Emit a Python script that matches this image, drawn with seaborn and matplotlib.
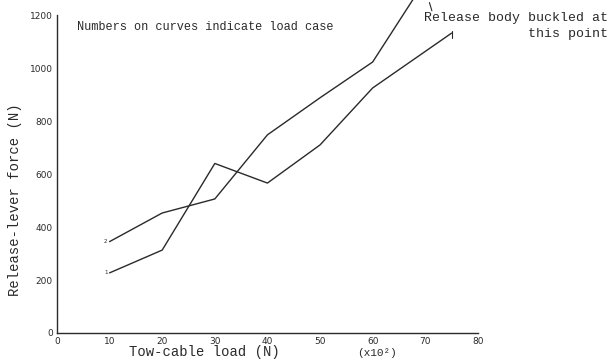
import matplotlib
matplotlib.use("Agg")
import matplotlib.pyplot as plt
import seaborn as sns
import pandas as pd

# Data (tow-cable load in units of 10^2 N)
case1_x = [10, 20, 30, 40, 50, 60, 75]
case1_y = [227, 313, 640, 566, 710, 925, 1132]
case2_x = [10, 20, 30, 40, 50, 60, 69]
case2_y = [345, 453, 506, 748, 888, 1023, 1300]
x_ticks = [0, 10, 20, 30, 40, 50, 60, 70, 80]
y_ticks = [0, 200, 400, 600, 800, 1000, 1200]

df = pd.concat([
    pd.DataFrame({"load": case1_x, "force": case1_y, "case": "1"}),
    pd.DataFrame({"load": case2_x, "force": case2_y, "case": "2"}),
])

sns.set_theme(style="white")
plt.rcParams["font.family"] = ["DejaVu Sans"]
mono = "Liberation Mono"
ink = "#2a2a2a"

fig = plt.figure(figsize=(6.1, 3.6), dpi=100)
ax = fig.add_axes([0.0934, 0.075, 0.690, 0.883])
sns.lineplot(data=df, x="load", y="force", units="case", estimator=None,
             color=ink, linewidth=1.0, sort=False, ax=ax, legend=False)
for line in ax.lines:
    line.set_clip_on(False)

ax.set_xlim(0, 80)
ax.set_ylim(0, 1200)
ax.set_xticks(x_ticks)
ax.set_yticks(y_ticks)
ax.set_xticklabels([str(v) for v in x_ticks], fontsize=6.5, color=ink)
ax.set_yticklabels([str(v) for v in y_ticks], fontsize=6.5, color=ink)
ax.tick_params(direction="in", length=3, width=0.8, colors=ink, pad=3)
for s in ["top", "right"]:
    ax.spines[s].set_visible(False)
for s in ["left", "bottom"]:
    ax.spines[s].set_color(ink)
    ax.spines[s].set_linewidth(1.0)
ax.set_xlabel("")
ax.set_ylabel("")

# curve labels
ax.text(case1_x[0] - 0.4, case1_y[0], "1", fontsize=4, ha="right", va="center", color=ink)
ax.text(case2_x[0] - 0.4, case2_y[0], "2", fontsize=4, ha="right", va="center", color=ink)

fig.text(0.126, 0.925, "Numbers on curves indicate load case", family=mono,
         fontsize=8.6, color=ink, va="center")
fig.text(0.997, 0.950, "Release body buckled at", family=mono, fontsize=9.5,
         color=ink, ha="right", va="center")
fig.text(0.997, 0.905, "this point", family=mono, fontsize=9.5,
         color=ink, ha="right", va="center")
fig.lines.append(plt.Line2D([0.704, 0.708], [0.993, 0.970], transform=fig.transFigure,
                            color=ink, linewidth=0.8))
fig.lines.append(plt.Line2D([0.741, 0.741], [0.915, 0.895], transform=fig.transFigure,
                            color=ink, linewidth=0.8))

fig.text(0.335, 0.022, "Tow-cable load (N)", family=mono, fontsize=10,
         color=ink, ha="center", va="center")
fig.text(0.618, 0.020, "(x10\u00b2)", family=mono, fontsize=8,
         color=ink, ha="center", va="center")
fig.text(0.025, 0.445, "Release-lever force (N)", family=mono, fontsize=10,
         color=ink, ha="center", va="center", rotation=90)

fig.savefig("out.png", dpi=100)
